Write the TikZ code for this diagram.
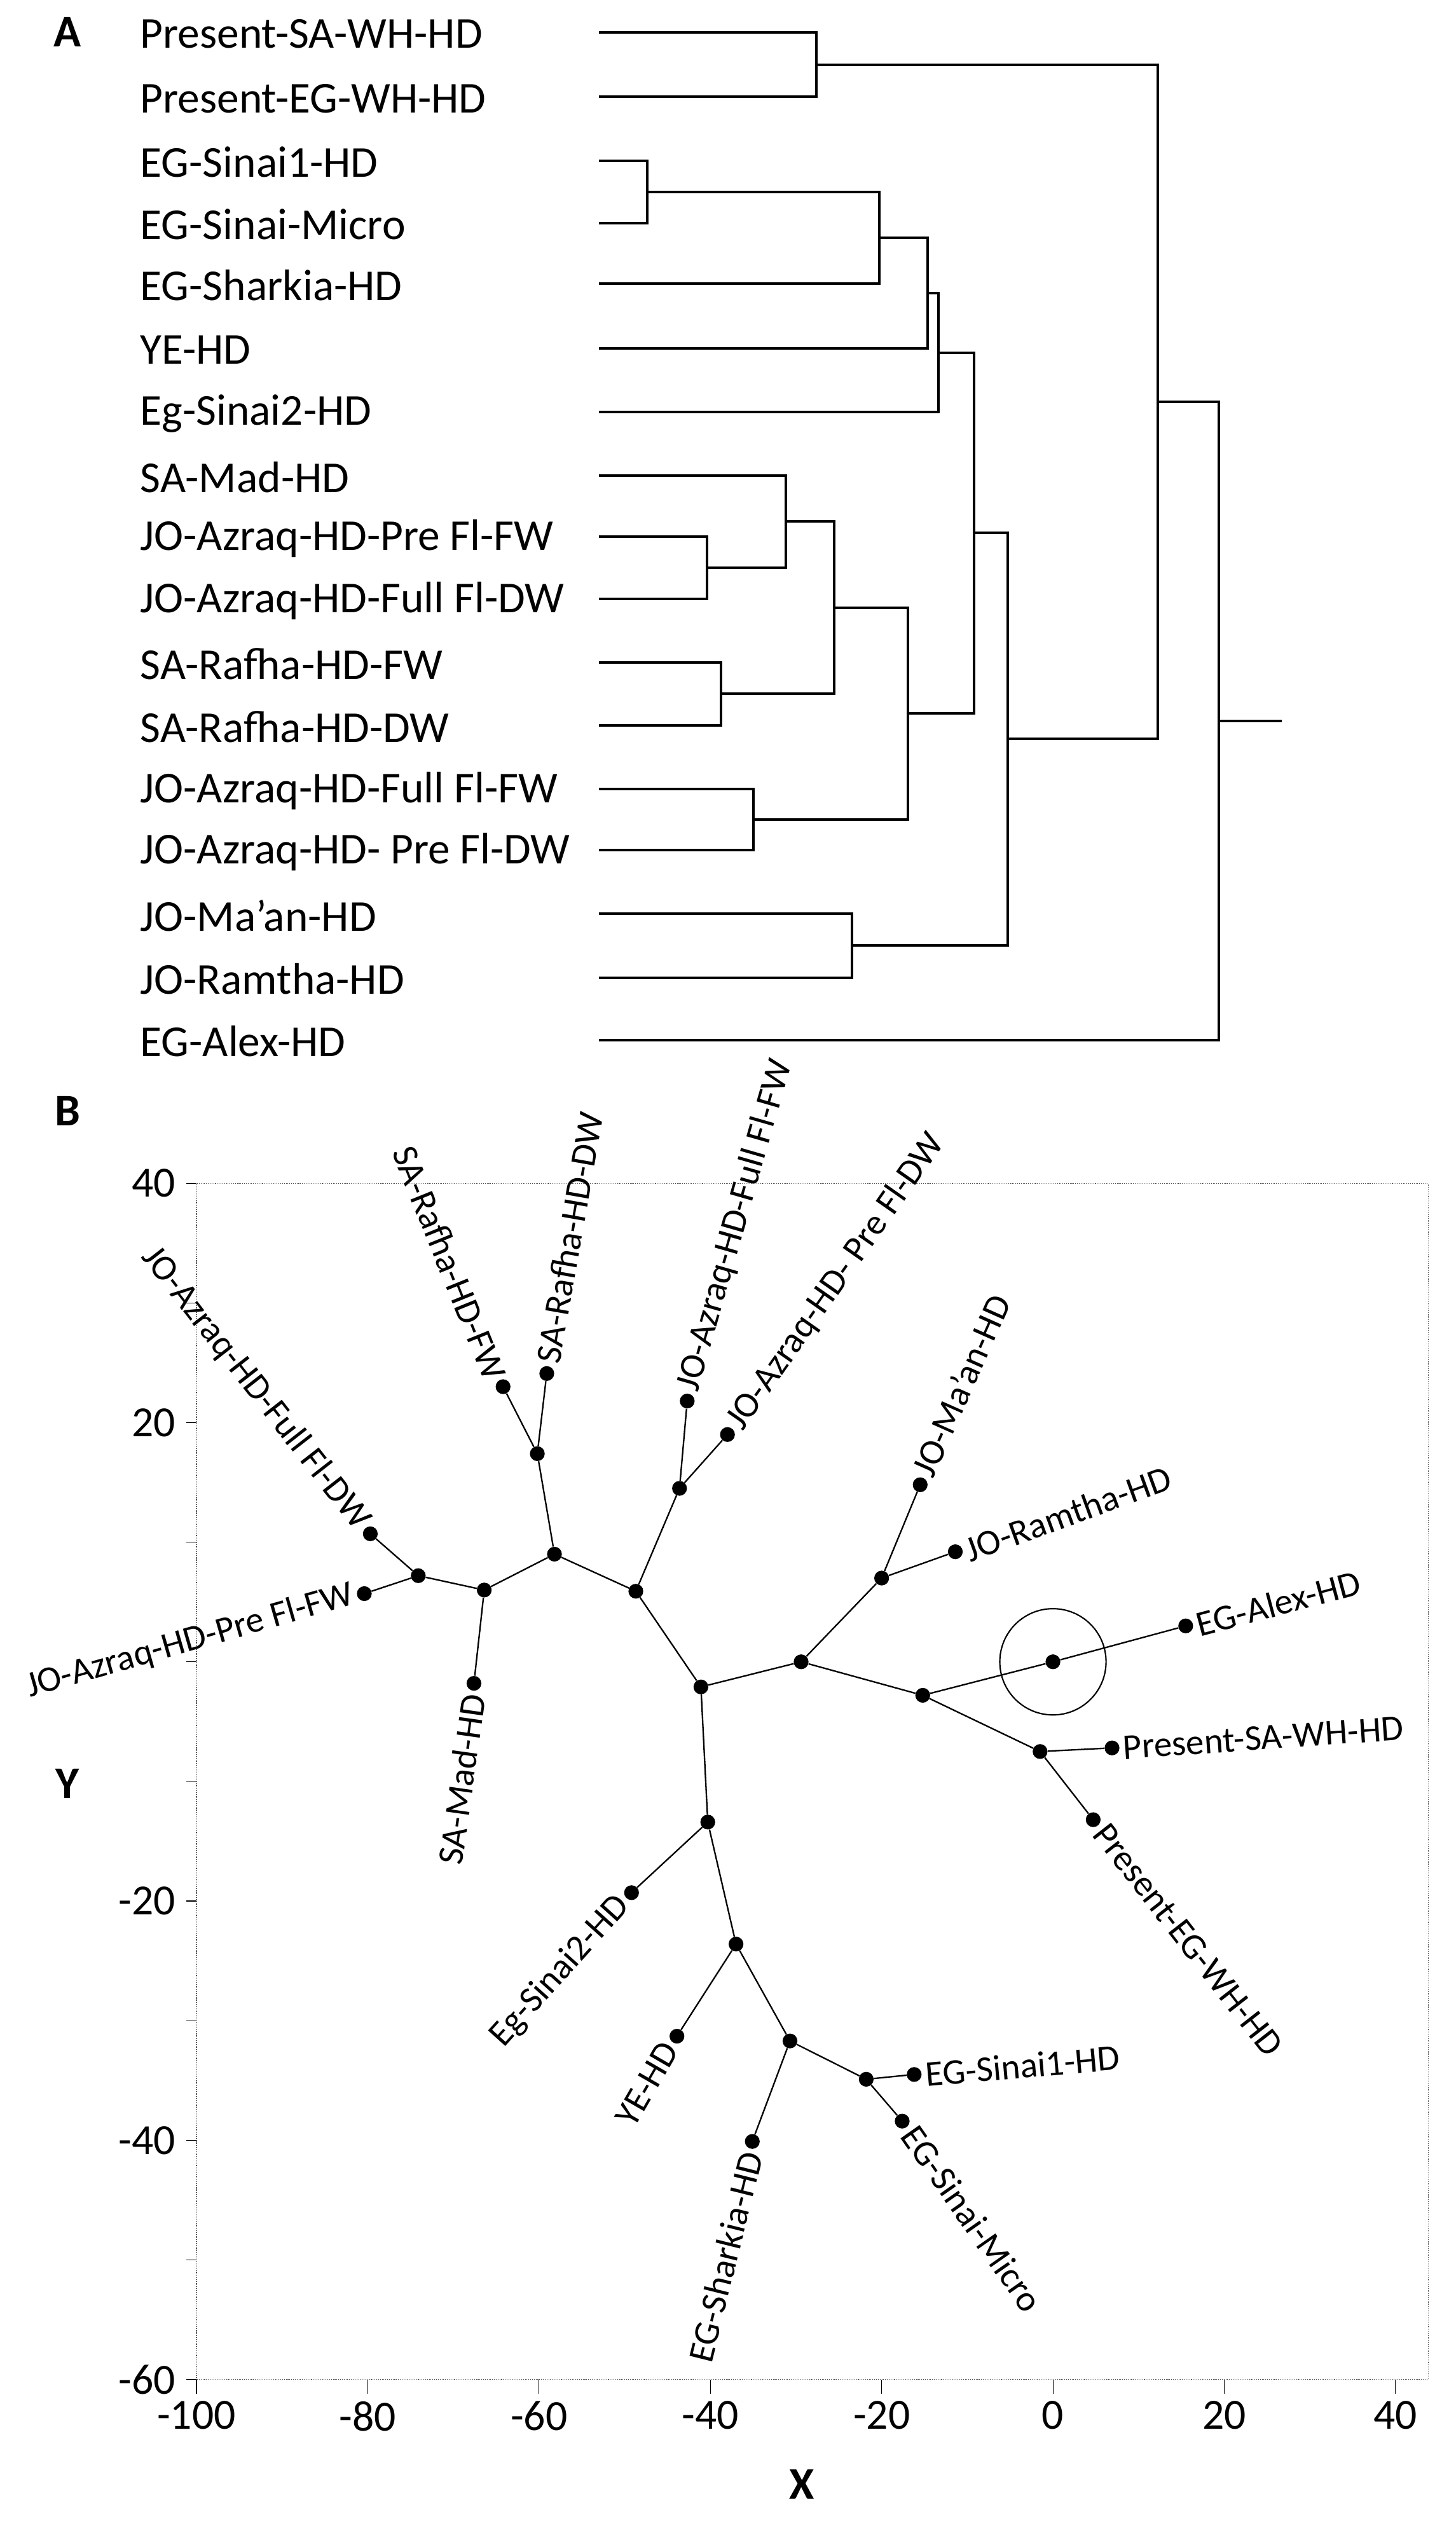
\documentclass[tikz,border=0pt]{standalone}
\usepackage{fontspec}
\setmainfont{Carlito}
\begin{document}
\begin{tikzpicture}[x=0.05cm,y=-0.05cm,
  dl/.style={line width=2.2pt},
  lab/.style={font=\fontsize{39}{43}\selectfont,anchor=west,inner sep=0pt},
  bl/.style={font=\fontsize{32}{36}\selectfont,inner sep=3pt},
  tk/.style={font=\fontsize{38}{42}\selectfont},
  ax/.style={line width=0.6pt,densely dotted,black!70},
  br/.style={line width=1.3pt},
  dot/.style={circle,fill=black,inner sep=0pt,minimum size=0.46cm}]
\useasboundingbox (0,0) rectangle (904,1569);
% ---------- Panel A ----------
\node[font=\fontsize{40}{44}\selectfont\bfseries] (A) at (42,20) {A};
\foreach \n/\y/\t in {1/20.2/Present-SA-WH-HD,2/60.2/Present-EG-WH-HD,3/99.8/EG-Sinai1-HD,4/138.5/EG-Sinai-Micro,5/176.3/EG-Sharkia-HD,6/216.3/YE-HD,7/255.9/Eg-Sinai2-HD,8/295.4/SA-Mad-HD,9/333.3/JO-Azraq-HD-Pre Fl-FW,10/372/JO-Azraq-HD-Full Fl-DW,11/411.5/SA-Rafha-HD-FW,12/450.6/SA-Rafha-HD-DW,13/490.2/JO-Azraq-HD-Full Fl-FW,14/528/JO-Azraq-HD- Pre Fl-DW,15/567.6/JO-Ma’an-HD,16/607.2/JO-Ramtha-HD,17/645.9/EG-Alex-HD}{
  \node[lab] (t\n) at (87,\y+1) {\t};
  \coordinate (L\n) at (372,\y);
}
\coordinate (J1) at (507,40.2);
\coordinate (J2) at (402,119.2);
\coordinate (J3) at (546,147.8);
\coordinate (J4) at (576,182);
\coordinate (J5) at (583,219);
\coordinate (J6) at (439,352.7);
\coordinate (J7) at (488,324);
\coordinate (J8) at (448,431);
\coordinate (J9) at (518,377.5);
\coordinate (J10) at (468,509);
\coordinate (J11) at (564,443);
\coordinate (J12) at (605,331);
\coordinate (J13) at (529,587.4);
\coordinate (J14) at (626,459);
\coordinate (J15) at (719,249.6);
\coordinate (J16) at (757,447.8);
\coordinate (R) at (796,447.8);
\begin{scope}[dl]
\draw (L1) -| (J1); \draw (L2) -| (J1);
\draw (L3) -| (J2); \draw (L4) -| (J2);
\draw (J2) -| (J3); \draw (L5) -| (J3);
\draw (J3) -| (J4); \draw (L6) -| (J4);
\draw (J4) -| (J5); \draw (L7) -| (J5);
\draw (L9) -| (J6); \draw (L10) -| (J6);
\draw (L8) -| (J7); \draw (J6) -| (J7);
\draw (L11) -| (J8); \draw (L12) -| (J8);
\draw (J7) -| (J9); \draw (J8) -| (J9);
\draw (L13) -| (J10); \draw (L14) -| (J10);
\draw (J9) -| (J11); \draw (J10) -| (J11);
\draw (J5) -| (J12); \draw (J11) -| (J12);
\draw (L15) -| (J13); \draw (L16) -| (J13);
\draw (J12) -| (J14); \draw (J13) -| (J14);
\draw (J1) -| (J15); \draw (J14) -| (J15);
\draw (J15) -| (J16); \draw (L17) -| (J16);
\draw (J16) -- (R);
\end{scope}
% ---------- Panel B ----------
\node[font=\fontsize{40}{44}\selectfont\bfseries] (B) at (42,690) {B};
\node[font=\fontsize{40}{44}\selectfont\bfseries] (Y) at (42,1108) {Y};
\node[font=\fontsize{40}{44}\selectfont\bfseries] (X) at (498,1543) {X};
\begin{scope}[shift={(654,1032.2)},x=0.266cm,y=0.3715cm]
\draw[ax] (-100,-60) rectangle (43.8,40);
\foreach \v in {-60,-50,...,40} \draw[line width=0.6pt] (-100,\v) -- (-101.2,\v);
\foreach \v in {-100,-80,...,40} {\draw[line width=0.6pt] (\v,-60) -- (\v,-61.2);
  \node[tk,anchor=north] (xt\v) at (\v,-61.5) {\v};}
\foreach \v in {-60,-40,-20,20,40} \node[tk,anchor=east] (yt\v) at (-102,\v) {\v};
% nodes
\foreach \n/\p in {root/{-41.1,-2.1},a/{-48.7,5.9},b/{-58.2,9.0},c/{-60.2,17.4},rfw/{-64.2,23.0},rdw/{-59.1,24.1},d/{-66.4,6.0},e/{-74.1,7.2},fdw/{-79.7,10.7},pfw/{-80.4,5.7},mad/{-67.6,-1.8},f/{-43.6,14.5},ffw/{-42.7,21.8},pdw/{-38.0,19.0},g/{-29.4,0.0},h/{-20.0,7.0},maan/{-15.5,14.8},ram/{-11.4,9.2},i/{-15.2,-2.8},ain/{0,0},alex/{15.5,3.0},j/{-1.5,-7.5},psa/{6.9,-7.2},peg/{4.7,-13.2},k/{-40.3,-13.4},sin2/{-49.2,-19.3},l/{-37.0,-23.6},ye/{-43.9,-31.3},m/{-30.7,-31.7},shk/{-35.1,-40.1},n/{-21.8,-34.9},sin1/{-16.2,-34.5},mic/{-17.6,-38.4}}
  \node[dot] (\n) at (\p) {};
\node[circle,draw,line width=1.2pt,minimum size=3.3cm,inner sep=0pt] (circ) at (ain) {};
\foreach \u/\v in {root/a,a/b,b/c,c/rfw,c/rdw,b/d,d/e,e/fdw,e/pfw,d/mad,a/f,f/ffw,f/pdw,root/g,g/h,h/maan,h/ram,g/i,i/ain,ain/alex,i/j,j/psa,j/peg,root/k,k/sin2,k/l,l/ye,l/m,m/shk,m/n,n/sin1,n/mic}
  \draw[br] (\u) -- (\v);
% labels
\node[bl,anchor=east,rotate=-68] (trfw) at (rfw.north west) {SA-Rafha-HD-FW};
\node[bl,anchor=west,rotate=80] (trdw) at (rdw.north) {SA-Rafha-HD-DW};
\node[bl,anchor=west,rotate=74] (tffw) at (ffw.north) {JO-Azraq-HD-Full Fl-FW};
\node[bl,anchor=west,rotate=55] (tpdw) at (pdw.north east) {JO-Azraq-HD- Pre Fl-DW};
\node[bl,anchor=west,rotate=66] (tmaan) at (maan.north) {JO-Ma’an-HD};
\node[bl,anchor=west,rotate=20] (tram) at (ram.east) {JO-Ramtha-HD};
\node[bl,anchor=west,rotate=15] (talex) at (alex.east) {EG-Alex-HD};
\node[bl,anchor=west,rotate=4] (tpsa) at (psa.east) {Present-SA-WH-HD};
\node[bl,anchor=west,rotate=-52] (tpeg) at (peg.south east) {Present-EG-WH-HD};
\node[bl,anchor=west,rotate=5] (tsin1) at (sin1.east) {EG-Sinai1-HD};
\node[bl,anchor=west,rotate=-55] (tmic) at (mic.south east) {EG-Sinai-Micro};
\node[bl,anchor=east,rotate=76] (tshk) at (shk.south) {EG-Sharkia-HD};
\node[bl,anchor=east,rotate=60] (tye) at (ye.south west) {YE-HD};
\node[bl,anchor=east,rotate=48] (tsin2) at (sin2.south west) {Eg-Sinai2-HD};
\node[bl,anchor=east,rotate=82] (tmad) at (mad.south) {SA-Mad-HD};
\node[bl,anchor=east,rotate=16] (tpfw) at (pfw.west) {JO-Azraq-HD-Pre Fl-FW};
\node[bl,anchor=east,rotate=-52] (tfdw) at (fdw.north west) {JO-Azraq-HD-Full Fl-DW};
\end{scope}
\end{tikzpicture}
\end{document}
